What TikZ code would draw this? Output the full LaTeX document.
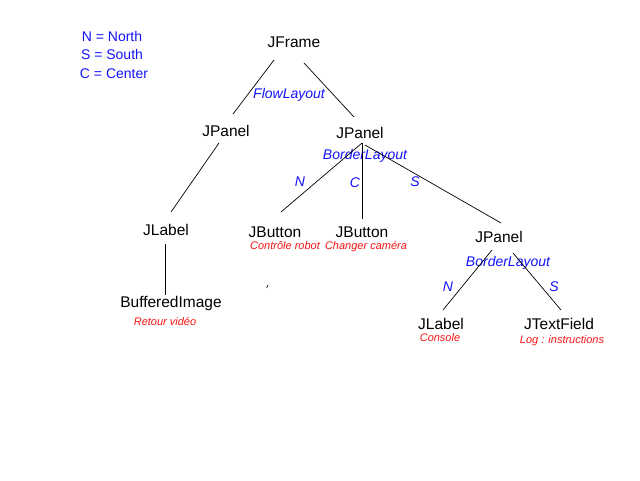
\documentclass[tikz,border=0pt]{standalone}
\usepackage{fontspec}
\setmainfont{Liberation Sans}
\definecolor{lblue}{RGB}{20,20,250}
\definecolor{lred}{RGB}{250,20,20}
\tikzset{
  comp/.style={font=\fontsize{15.5}{17}\selectfont, text=black, inner sep=0pt},
  legend/.style={font=\fontsize{14}{16}\selectfont, text=lblue, inner sep=0pt},
  layout/.style={font=\fontsize{14}{16}\selectfont\itshape, text=lblue, inner sep=0pt},
  note/.style={font=\fontsize{11}{13}\selectfont\itshape, text=lred, inner sep=0pt},
  link/.style={draw=black, line width=0.7pt}
}
\begin{document}
\begin{tikzpicture}[x=1pt,y=-1pt]
\useasboundingbox[fill=white] (0,0) rectangle (640,480);
% legend
\node[legend] (l1) at (112,36) {N = North};
\node[legend] (l2) at (112,54) {S = South};
\node[legend] (l3) at (114,73.5) {C = Center};
% components
\node[comp] (jframe) at (294,42) {JFrame};
\node[comp] (jpl) at (226,131) {JPanel};
\node[comp] (jpr) at (360,133) {JPanel};
\node[comp] (jlabel) at (166,230) {JLabel};
\node[comp] (jb1) at (275,232) {JButton};
\node[comp] (jb2) at (362,232) {JButton};
\node[comp] (jp3) at (499,237) {JPanel};
\node[comp] (bimg) at (171,303.5) {BufferedImage};
\node[comp] (jl2) at (441,324) {JLabel};
\node[comp] (jtf) at (559,324) {JTextField};
% layouts
\node[layout] (fl) at (289,94.5) {FlowLayout};
\node[layout] (bl1) at (365,155.5) {BorderLayout};
\node[layout] (bl2) at (508,262.5) {BorderLayout};
\node[layout] (n1) at (300,182) {N};
\node[layout] (c1) at (355,183) {C};
\node[layout] (s1) at (415,182) {S};
\node[layout] (n2) at (448,287) {N};
\node[layout] (s2) at (554,287) {S};
% notes
\node[note] (nb1) at (285,246) {Contrôle robot};
\node[note] (nb2) at (366,246.5) {Changer caméra};
\node[note] (nbi) at (165,321.5) {Retour vidéo};
\node[note] (nl2) at (440,337.5) {Console};
\node[note] (ntf) at (562,341) {Log : instructions};
% connectors
\draw[link] ([shift={(-20,18)}]jframe.center) -- ([shift={(7,-17)}]jpl.center);
\draw[link] ([shift={(10,21)}]jframe.center) -- ([shift={(-6,-16)}]jpr.center);
\draw[link] ([shift={(-7,12)}]jpl.center) -- ([shift={(5,-18)}]jlabel.center);
\draw[link] ([shift={(2,10)}]jpr.center) -- ([shift={(6,-20)}]jb1.center);
\draw[link] ([shift={(2,10)}]jpr.center) -- ([shift={(0,-13)}]jb2.center);
\draw[link] ([shift={(5,12)}]jpr.center) -- ([shift={(2,-14)}]jp3.center);
\draw[link] ([shift={(-7,13)}]jp3.center) -- ([shift={(2,-14)}]jl2.center);
\draw[link] ([shift={(14,16)}]jp3.center) -- ([shift={(2,-14)}]jtf.center);
\draw[link] ([shift={(-1,14)}]jlabel.center) -- ([shift={(-6,-9)}]bimg.center);
% stray mark
\coordinate (m1) at (268,285);
\coordinate (m2) at (266.6,288);
\draw[link] (m1) -- (m2);
\end{tikzpicture}
\end{document}
